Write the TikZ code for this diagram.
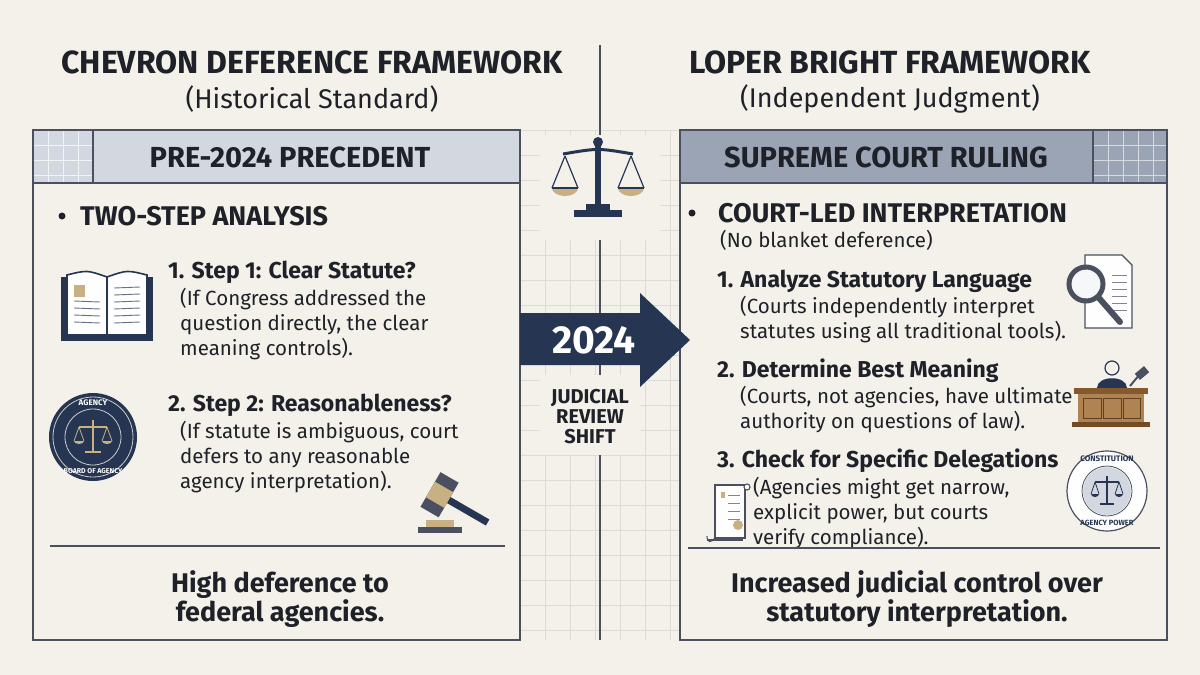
\documentclass[tikz,border=0pt]{standalone}
\usepackage{fontspec}
\setmainfont{Fira Sans}
\begin{document}
\definecolor{bg}{HTML}{F3F1EA}
\definecolor{navy}{HTML}{263652}
\definecolor{ink}{HTML}{1E2128}
\definecolor{frame}{HTML}{4A5060}
\definecolor{hdrL}{HTML}{D3D7DF}
\definecolor{hdrR}{HTML}{9BA4B4}
\definecolor{gold}{HTML}{C9B083}
\definecolor{gridc}{HTML}{DDDBD4}
\begin{tikzpicture}[x=1pt,y=-1pt,
 title/.style={font=\fontsize{32}{34}\selectfont\bfseries,text=ink},
 sub/.style={font=\fontsize{27}{30}\selectfont,text=ink},
 hdr/.style={font=\fontsize{29}{30}\selectfont\bfseries,text=ink},
 bul/.style={font=\fontsize{27}{28}\selectfont\bfseries,text=ink,anchor=west,inner sep=0},
 stp/.style={font=\fontsize{23}{24}\selectfont\bfseries,text=ink,anchor=west,inner sep=0},
 body/.style={font=\fontsize{20.5}{25}\selectfont,text=ink,anchor=north west,inner sep=0,align=left},
 foot/.style={font=\fontsize{27}{29}\selectfont\bfseries,text=ink,align=center}]
\fill[bg] (0,0) rectangle (1200,675);
\useasboundingbox (0,0) rectangle (1200,675);
% center grid
\foreach \x in {520,545,...,680} \draw[gridc,line width=0.6pt] (\x,130) -- (\x,640);
\foreach \y in {130,155,...,640} \draw[gridc,line width=0.6pt] (520,\y) -- (680,\y);
\draw[frame,line width=1.5pt] (600,45) -- (600,640);
\fill[bg] (540,135) rectangle (660,240);
\fill[bg] (540,375) rectangle (640,455);
% titles
\node[title] (tl) at (312,62) {CHEVRON DEFERENCE FRAMEWORK};
\node[sub] (sl) at (312,99) {(Historical Standard)};
\node[title] (tr) at (890,62) {LOPER BRIGHT FRAMEWORK};
\node[sub] (sr) at (890,99) {(Independent Judgment)};
% left panel
\fill[bg] (33,130) rectangle (520,640);
\fill[hdrL] (33,130) rectangle (520,183);
\foreach \x in {48,63,78} \draw[white!70!hdrL,line width=0.6pt] (\x,130) -- (\x,183);
\foreach \y in {145,160,175} \draw[white!70!hdrL,line width=0.6pt] (33,\y) -- (93,\y);
\draw[frame,line width=1.2pt] (93,130) -- (93,183);
\draw[frame,line width=1.5pt] (33,183) -- (520,183);
\draw[frame,line width=1.5pt] (33,130) rectangle (520,640);
\node[hdr] (hl) at (290,157) {PRE-2024 PRECEDENT};
\fill[ink] (62,216) circle (3.5);
\node[bul] (bl) at (80,216) {TWO-STEP ANALYSIS};
\node[stp] (s1) at (168,272) {1. Step 1: Clear Statute?};
\node[body] (b1) at (180,288) {(If Congress addressed the\\question directly, the clear\\meaning controls).};
\node[stp] (s2) at (168,405) {2. Step 2: Reasonableness?};
\node[body] (b2) at (180,421) {(If statute is ambiguous, court\\defers to any reasonable\\agency interpretation).};
\draw[frame,line width=1.5pt] (50,546) -- (505,546);
\node[foot] (fl) at (280,599) {High deference to\\federal agencies.};
% right panel
\fill[bg] (680,130) rectangle (1167,640);
\fill[hdrR] (680,130) rectangle (1167,183);
\foreach \x in {1108,1123,1138,1153} \draw[white!60!hdrR,line width=0.6pt] (\x,130) -- (\x,183);
\foreach \y in {145,160,175} \draw[white!60!hdrR,line width=0.6pt] (1093,\y) -- (1167,\y);
\draw[frame,line width=1.2pt] (1093,130) -- (1093,183);
\draw[frame,line width=1.5pt] (680,183) -- (1167,183);
\draw[frame,line width=1.5pt] (680,130) rectangle (1167,640);
\node[hdr] (hr) at (886,157) {SUPREME COURT RULING};
\fill[ink] (692,213) circle (3.5);
\node[bul] (br) at (718,213) {COURT-LED INTERPRETATION};
\node[body] (nb) at (720,230) {(No blanket deference)};
\node[stp] (r1) at (717,281) {1. Analyze Statutory Language};
\node[body] (rb1) at (740,296) {(Courts independently interpret\\statutes using all traditional tools).};
\node[stp] (r2) at (717,371) {2. Determine Best Meaning};
\node[body] (rb2) at (740,386) {(Courts, not agencies, have ultimate\\authority on questions of law).};
\node[stp] (r3) at (717,461) {3. Check for Specific Delegations};
\node[body] (rb3) at (753,477) {(Agencies might get narrow,\\explicit power, but courts\\verify compliance).};
\draw[frame,line width=1.5pt] (688,548) -- (1160,548);
\node[foot] (fr) at (917,599) {Increased judicial control over\\statutory interpretation.};
% arrow
\fill[navy] (520,313) -- (640,313) -- (640,293) -- (690,340) -- (640,387) -- (640,365) -- (520,365) -- cycle;
\node[font=\fontsize{39}{40}\selectfont\bfseries,text=white] (yr) at (594,340) {2024};
\node[font=\fontsize{20}{20}\selectfont\bfseries,text=ink,align=center] (js) at (590,417) {JUDICIAL\\REVIEW\\SHIFT};
% scales icon
\begin{scope}[shift={(598,180)}]
\fill[navy] (-3,-36) rectangle (3,30);
\fill[navy] (0,-38) circle (5);
\draw[navy,line width=3pt] (-35,-26) .. controls (0,-32) .. (35,-26);
\fill[navy] (-24,30) rectangle (24,37);
\fill[navy] (-12,24) rectangle (12,31);
\foreach \s in {-1,1}{
 \draw[navy,line width=1.2pt] (\s*33,-24) -- (\s*46,8) (\s*33,-24) -- (\s*20,8);
 \fill[gold] (\s*33+13,8) arc (0:180:13 and 8) -- cycle;
 \draw[navy,line width=1.2pt] (\s*33-13,8) -- (\s*33+13,8);
}
\end{scope}
% book icon
\begin{scope}[shift={(107,305)}]
\fill[navy] (-46,-28) rectangle (46,36);
\draw[navy,fill=white!95!bg,line width=1.6pt] (0,30) -- (-40,30) -- (-40,-30) .. controls (-20,-35) .. (0,-28) -- cycle;
\draw[navy,fill=white!95!bg,line width=1.6pt] (0,30) -- (40,30) -- (40,-30) .. controls (20,-35) .. (0,-28) -- cycle;
\fill[gold] (-33,-20) rectangle (-22,-8);
\foreach \y in {-4,3,10,17} \draw[navy!70,line width=0.9pt] (-33,\y) -- (-7,\y+1);
\foreach \y in {-18,-11,-4,3,10,17} \draw[navy!70,line width=0.9pt] (7,\y+1) -- (33,\y);
\end{scope}
% agency seal
\begin{scope}[shift={(93,437)}]
\fill[navy] (0,0) circle (44);
\draw[bg!80!navy,line width=0.8pt] (0,0) circle (40) (0,0) circle (28);
\node[text=white,font=\fontsize{8}{8}\selectfont\bfseries] (sa) at (0,-34) {AGENCY};
\node[text=white,font=\fontsize{7}{7}\selectfont\bfseries] (sb) at (0,34) {BOARD OF AGENCY};
\draw[gold,line width=1.5pt] (0,-17) -- (0,15) (-14,-10) -- (14,-10) (-8,15) -- (8,15);
\foreach \s in {-1,1}{\draw[gold,line width=0.8pt] (\s*14,-10) -- (\s*19,4) (\s*14,-10) -- (\s*9,4);
 \fill[gold] (\s*14+5,4) arc (0:180:5 and 3) -- cycle;}
\end{scope}
% gavel left
\begin{scope}[shift={(440,495)},rotate=60]
\fill[navy] (-3.5,0) rectangle (3.5,55);
\fill[frame] (-20,-11) rectangle (20,10);
\fill[gold] (-9,-11) rectangle (9,10);
\end{scope}
\fill[frame] (418,527) rectangle (462,533);
\fill[gold] (426,520) rectangle (454,527);
% magnifier doc
\begin{scope}[shift={(1100,290)}]
\draw[frame,fill=white!95!bg,line width=1.2pt] (-15,-35) -- (22,-35) -- (32,-25) -- (32,38) -- (-15,38) -- cycle;
\foreach \y in {-15,-8,-1,6,13,20} \draw[frame!70,line width=0.9pt] (12,\y) -- (27,\y);
\draw[frame,line width=5pt] (-14,-6) circle (17);
\fill[white!80!hdrL] (-14,-6) circle (14);
\draw[frame,line width=6pt,line cap=round] (-1,8) -- (20,32);
\end{scope}
% judge
\begin{scope}[shift={(1112,400)}]
\draw[navy,fill=bg,line width=1.2pt] (0,-32) circle (7);
\fill[navy] (-15,-12) .. controls (-15,-25) and (15,-25) .. (15,-12) -- cycle;
\fill[brown!70!black] (-38,-12) rectangle (36,-6);
\fill[brown!60!gold!90!black] (-34,-6) rectangle (32,22);
\draw[brown!50!black,line width=1pt] (-29,-2) rectangle (-11,18) (-9,-2) rectangle (9,18) (11,-2) rectangle (28,18);
\fill[brown!60!black] (-40,22) rectangle (38,27);
\draw[frame,line width=2pt] (18,-14) -- (28,-26);
\fill[frame,rotate around={40:(30,-27)}] (24,-31) rectangle (36,-23);
\end{scope}
% scroll
\begin{scope}[shift={(735,510)}]
\draw[frame,fill=white!95!bg,line width=1.1pt] (-20,-25) rectangle (10,28);
\draw[frame,fill=white!95!bg,line width=1.1pt] (12,-23) circle (3);
\draw[frame,line width=1.1pt] (-28,30) -- (8,30);
\draw[frame,line width=1.1pt] (-28,26) .. controls (-28,33) and (-24,33) .. (-20,28);
\fill[gold] (-14,-18) rectangle (-10,-12);
\foreach \y in {-15,-7,1,9} \draw[frame!70,line width=0.9pt] (-7,\y) -- (5,\y);
\fill[gold] (3,15) circle (5);
\end{scope}
% constitution seal
\begin{scope}[shift={(1107,491)}]
\draw[frame,fill=white!95!bg,line width=1.2pt] (0,0) circle (40);
\draw[frame,line width=0.8pt] (0,0) circle (25);
\fill[hdrL] (0,0) circle (24);
\node[text=navy,font=\fontsize{8}{8}\selectfont\bfseries] (ca) at (0,-32) {CONSTITUTION};
\node[text=navy,font=\fontsize{7.5}{8}\selectfont\bfseries] (cb) at (0,32) {AGENCY POWER};
\draw[navy,line width=1.5pt] (0,-15) -- (0,13) (-12,-9) -- (12,-9) (-7,13) -- (7,13);
\foreach \s in {-1,1}{\draw[navy,line width=0.8pt] (\s*12,-9) -- (\s*16,3) (\s*12,-9) -- (\s*8,3);
 \fill[navy] (\s*12+4,3) arc (0:180:4 and 3) -- cycle;}
\end{scope}
\end{tikzpicture}
\end{document}
